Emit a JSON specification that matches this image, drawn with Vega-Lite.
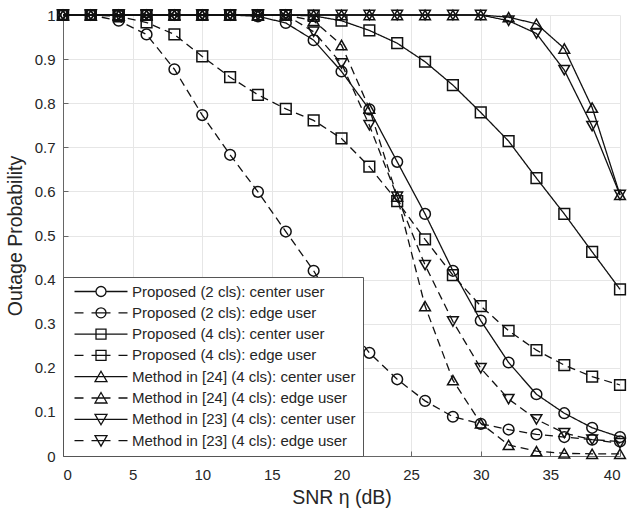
{
  "$schema": "https://vega.github.io/schema/vega-lite/v6.json",
  "autosize": {"type": "none"},
  "padding": {"left": 63, "top": 15, "right": 10, "bottom": 57},
  "width": 557,
  "height": 441,
  "background": "white",
  "config": {
    "view": {"stroke": null},
    "font": "Liberation Sans",
    "axis": {
      "labelFont": "Liberation Sans", "titleFont": "Liberation Sans",
      "labelFontSize": 15, "titleFontSize": 19.5, "titleFontWeight": "normal",
      "labelColor": "#262626", "titleColor": "#262626",
      "gridColor": "#e6e6e6", "gridWidth": 1,
      "domainColor": "#666666", "tickColor": "#666666",
      "tickSize": -5
    }
  },
  "datasets": {
    "curves": [
      {"series": "Proposed (2 cls): center user", "snr": 0, "p": 1},
      {"series": "Proposed (2 cls): center user", "snr": 2, "p": 1},
      {"series": "Proposed (2 cls): center user", "snr": 4, "p": 1},
      {"series": "Proposed (2 cls): center user", "snr": 6, "p": 1},
      {"series": "Proposed (2 cls): center user", "snr": 8, "p": 1},
      {"series": "Proposed (2 cls): center user", "snr": 10, "p": 1},
      {"series": "Proposed (2 cls): center user", "snr": 12, "p": 1},
      {"series": "Proposed (2 cls): center user", "snr": 14, "p": 0.997},
      {"series": "Proposed (2 cls): center user", "snr": 16, "p": 0.982},
      {"series": "Proposed (2 cls): center user", "snr": 18, "p": 0.943},
      {"series": "Proposed (2 cls): center user", "snr": 20, "p": 0.872},
      {"series": "Proposed (2 cls): center user", "snr": 22, "p": 0.786},
      {"series": "Proposed (2 cls): center user", "snr": 24, "p": 0.667},
      {"series": "Proposed (2 cls): center user", "snr": 26, "p": 0.549},
      {"series": "Proposed (2 cls): center user", "snr": 28, "p": 0.42},
      {"series": "Proposed (2 cls): center user", "snr": 30, "p": 0.307},
      {"series": "Proposed (2 cls): center user", "snr": 32, "p": 0.212},
      {"series": "Proposed (2 cls): center user", "snr": 34, "p": 0.14},
      {"series": "Proposed (2 cls): center user", "snr": 36, "p": 0.097},
      {"series": "Proposed (2 cls): center user", "snr": 38, "p": 0.064},
      {"series": "Proposed (2 cls): center user", "snr": 40, "p": 0.043},

      {"series": "Proposed (2 cls): edge user", "snr": 0, "p": 1},
      {"series": "Proposed (2 cls): edge user", "snr": 2, "p": 1},
      {"series": "Proposed (2 cls): edge user", "snr": 4, "p": 0.987},
      {"series": "Proposed (2 cls): edge user", "snr": 6, "p": 0.956},
      {"series": "Proposed (2 cls): edge user", "snr": 8, "p": 0.877},
      {"series": "Proposed (2 cls): edge user", "snr": 10, "p": 0.773},
      {"series": "Proposed (2 cls): edge user", "snr": 12, "p": 0.683},
      {"series": "Proposed (2 cls): edge user", "snr": 14, "p": 0.599},
      {"series": "Proposed (2 cls): edge user", "snr": 16, "p": 0.509},
      {"series": "Proposed (2 cls): edge user", "snr": 18, "p": 0.42},
      {"series": "Proposed (2 cls): edge user", "snr": 20, "p": 0.316},
      {"series": "Proposed (2 cls): edge user", "snr": 22, "p": 0.234},
      {"series": "Proposed (2 cls): edge user", "snr": 24, "p": 0.174},
      {"series": "Proposed (2 cls): edge user", "snr": 26, "p": 0.125},
      {"series": "Proposed (2 cls): edge user", "snr": 28, "p": 0.089},
      {"series": "Proposed (2 cls): edge user", "snr": 30, "p": 0.073},
      {"series": "Proposed (2 cls): edge user", "snr": 32, "p": 0.06},
      {"series": "Proposed (2 cls): edge user", "snr": 34, "p": 0.049},
      {"series": "Proposed (2 cls): edge user", "snr": 36, "p": 0.043},
      {"series": "Proposed (2 cls): edge user", "snr": 38, "p": 0.037},
      {"series": "Proposed (2 cls): edge user", "snr": 40, "p": 0.033},

      {"series": "Proposed (4 cls): center user", "snr": 0, "p": 1},
      {"series": "Proposed (4 cls): center user", "snr": 2, "p": 1},
      {"series": "Proposed (4 cls): center user", "snr": 4, "p": 1},
      {"series": "Proposed (4 cls): center user", "snr": 6, "p": 1},
      {"series": "Proposed (4 cls): center user", "snr": 8, "p": 1},
      {"series": "Proposed (4 cls): center user", "snr": 10, "p": 1},
      {"series": "Proposed (4 cls): center user", "snr": 12, "p": 1},
      {"series": "Proposed (4 cls): center user", "snr": 14, "p": 1},
      {"series": "Proposed (4 cls): center user", "snr": 16, "p": 1},
      {"series": "Proposed (4 cls): center user", "snr": 18, "p": 0.998},
      {"series": "Proposed (4 cls): center user", "snr": 20, "p": 0.987},
      {"series": "Proposed (4 cls): center user", "snr": 22, "p": 0.965},
      {"series": "Proposed (4 cls): center user", "snr": 24, "p": 0.936},
      {"series": "Proposed (4 cls): center user", "snr": 26, "p": 0.894},
      {"series": "Proposed (4 cls): center user", "snr": 28, "p": 0.841},
      {"series": "Proposed (4 cls): center user", "snr": 30, "p": 0.779},
      {"series": "Proposed (4 cls): center user", "snr": 32, "p": 0.714},
      {"series": "Proposed (4 cls): center user", "snr": 34, "p": 0.63},
      {"series": "Proposed (4 cls): center user", "snr": 36, "p": 0.549},
      {"series": "Proposed (4 cls): center user", "snr": 38, "p": 0.463},
      {"series": "Proposed (4 cls): center user", "snr": 40, "p": 0.378},

      {"series": "Proposed (4 cls): edge user", "snr": 0, "p": 1},
      {"series": "Proposed (4 cls): edge user", "snr": 2, "p": 1},
      {"series": "Proposed (4 cls): edge user", "snr": 4, "p": 0.997},
      {"series": "Proposed (4 cls): edge user", "snr": 6, "p": 0.983},
      {"series": "Proposed (4 cls): edge user", "snr": 8, "p": 0.956},
      {"series": "Proposed (4 cls): edge user", "snr": 10, "p": 0.906},
      {"series": "Proposed (4 cls): edge user", "snr": 12, "p": 0.859},
      {"series": "Proposed (4 cls): edge user", "snr": 14, "p": 0.819},
      {"series": "Proposed (4 cls): edge user", "snr": 16, "p": 0.787},
      {"series": "Proposed (4 cls): edge user", "snr": 18, "p": 0.761},
      {"series": "Proposed (4 cls): edge user", "snr": 20, "p": 0.72},
      {"series": "Proposed (4 cls): edge user", "snr": 22, "p": 0.656},
      {"series": "Proposed (4 cls): edge user", "snr": 24, "p": 0.578},
      {"series": "Proposed (4 cls): edge user", "snr": 26, "p": 0.491},
      {"series": "Proposed (4 cls): edge user", "snr": 28, "p": 0.41},
      {"series": "Proposed (4 cls): edge user", "snr": 30, "p": 0.34},
      {"series": "Proposed (4 cls): edge user", "snr": 32, "p": 0.284},
      {"series": "Proposed (4 cls): edge user", "snr": 34, "p": 0.24},
      {"series": "Proposed (4 cls): edge user", "snr": 36, "p": 0.206},
      {"series": "Proposed (4 cls): edge user", "snr": 38, "p": 0.18},
      {"series": "Proposed (4 cls): edge user", "snr": 40, "p": 0.161},

      {"series": "Method in [24] (4 cls): center user", "snr": 0, "p": 1},
      {"series": "Method in [24] (4 cls): center user", "snr": 2, "p": 1},
      {"series": "Method in [24] (4 cls): center user", "snr": 4, "p": 1},
      {"series": "Method in [24] (4 cls): center user", "snr": 6, "p": 1},
      {"series": "Method in [24] (4 cls): center user", "snr": 8, "p": 1},
      {"series": "Method in [24] (4 cls): center user", "snr": 10, "p": 1},
      {"series": "Method in [24] (4 cls): center user", "snr": 12, "p": 1},
      {"series": "Method in [24] (4 cls): center user", "snr": 14, "p": 1},
      {"series": "Method in [24] (4 cls): center user", "snr": 16, "p": 1},
      {"series": "Method in [24] (4 cls): center user", "snr": 18, "p": 1},
      {"series": "Method in [24] (4 cls): center user", "snr": 20, "p": 1},
      {"series": "Method in [24] (4 cls): center user", "snr": 22, "p": 1},
      {"series": "Method in [24] (4 cls): center user", "snr": 24, "p": 1},
      {"series": "Method in [24] (4 cls): center user", "snr": 26, "p": 1},
      {"series": "Method in [24] (4 cls): center user", "snr": 28, "p": 1},
      {"series": "Method in [24] (4 cls): center user", "snr": 30, "p": 1},
      {"series": "Method in [24] (4 cls): center user", "snr": 32, "p": 0.995},
      {"series": "Method in [24] (4 cls): center user", "snr": 34, "p": 0.98},
      {"series": "Method in [24] (4 cls): center user", "snr": 36, "p": 0.924},
      {"series": "Method in [24] (4 cls): center user", "snr": 38, "p": 0.79},
      {"series": "Method in [24] (4 cls): center user", "snr": 40, "p": 0.592},

      {"series": "Method in [24] (4 cls): edge user", "snr": 0, "p": 1},
      {"series": "Method in [24] (4 cls): edge user", "snr": 2, "p": 1},
      {"series": "Method in [24] (4 cls): edge user", "snr": 4, "p": 1},
      {"series": "Method in [24] (4 cls): edge user", "snr": 6, "p": 1},
      {"series": "Method in [24] (4 cls): edge user", "snr": 8, "p": 1},
      {"series": "Method in [24] (4 cls): edge user", "snr": 10, "p": 1},
      {"series": "Method in [24] (4 cls): edge user", "snr": 12, "p": 1},
      {"series": "Method in [24] (4 cls): edge user", "snr": 14, "p": 1},
      {"series": "Method in [24] (4 cls): edge user", "snr": 16, "p": 1},
      {"series": "Method in [24] (4 cls): edge user", "snr": 18, "p": 0.987},
      {"series": "Method in [24] (4 cls): edge user", "snr": 20, "p": 0.932},
      {"series": "Method in [24] (4 cls): edge user", "snr": 22, "p": 0.788},
      {"series": "Method in [24] (4 cls): edge user", "snr": 24, "p": 0.588},
      {"series": "Method in [24] (4 cls): edge user", "snr": 26, "p": 0.34},
      {"series": "Method in [24] (4 cls): edge user", "snr": 28, "p": 0.172},
      {"series": "Method in [24] (4 cls): edge user", "snr": 30, "p": 0.074},
      {"series": "Method in [24] (4 cls): edge user", "snr": 32, "p": 0.025},
      {"series": "Method in [24] (4 cls): edge user", "snr": 34, "p": 0.011},
      {"series": "Method in [24] (4 cls): edge user", "snr": 36, "p": 0.006},
      {"series": "Method in [24] (4 cls): edge user", "snr": 38, "p": 0.005},
      {"series": "Method in [24] (4 cls): edge user", "snr": 40, "p": 0.005},

      {"series": "Method in [23] (4 cls): center user", "snr": 0, "p": 1},
      {"series": "Method in [23] (4 cls): center user", "snr": 2, "p": 1},
      {"series": "Method in [23] (4 cls): center user", "snr": 4, "p": 1},
      {"series": "Method in [23] (4 cls): center user", "snr": 6, "p": 1},
      {"series": "Method in [23] (4 cls): center user", "snr": 8, "p": 1},
      {"series": "Method in [23] (4 cls): center user", "snr": 10, "p": 1},
      {"series": "Method in [23] (4 cls): center user", "snr": 12, "p": 1},
      {"series": "Method in [23] (4 cls): center user", "snr": 14, "p": 1},
      {"series": "Method in [23] (4 cls): center user", "snr": 16, "p": 1},
      {"series": "Method in [23] (4 cls): center user", "snr": 18, "p": 1},
      {"series": "Method in [23] (4 cls): center user", "snr": 20, "p": 1},
      {"series": "Method in [23] (4 cls): center user", "snr": 22, "p": 1},
      {"series": "Method in [23] (4 cls): center user", "snr": 24, "p": 1},
      {"series": "Method in [23] (4 cls): center user", "snr": 26, "p": 1},
      {"series": "Method in [23] (4 cls): center user", "snr": 28, "p": 1},
      {"series": "Method in [23] (4 cls): center user", "snr": 30, "p": 1},
      {"series": "Method in [23] (4 cls): center user", "snr": 32, "p": 0.987},
      {"series": "Method in [23] (4 cls): center user", "snr": 34, "p": 0.958},
      {"series": "Method in [23] (4 cls): center user", "snr": 36, "p": 0.875},
      {"series": "Method in [23] (4 cls): center user", "snr": 38, "p": 0.748},
      {"series": "Method in [23] (4 cls): center user", "snr": 40, "p": 0.592},

      {"series": "Method in [23] (4 cls): edge user", "snr": 0, "p": 1},
      {"series": "Method in [23] (4 cls): edge user", "snr": 2, "p": 1},
      {"series": "Method in [23] (4 cls): edge user", "snr": 4, "p": 1},
      {"series": "Method in [23] (4 cls): edge user", "snr": 6, "p": 1},
      {"series": "Method in [23] (4 cls): edge user", "snr": 8, "p": 1},
      {"series": "Method in [23] (4 cls): edge user", "snr": 10, "p": 1},
      {"series": "Method in [23] (4 cls): edge user", "snr": 12, "p": 1},
      {"series": "Method in [23] (4 cls): edge user", "snr": 14, "p": 1},
      {"series": "Method in [23] (4 cls): edge user", "snr": 16, "p": 1},
      {"series": "Method in [23] (4 cls): edge user", "snr": 18, "p": 0.962},
      {"series": "Method in [23] (4 cls): edge user", "snr": 20, "p": 0.89},
      {"series": "Method in [23] (4 cls): edge user", "snr": 22, "p": 0.75},
      {"series": "Method in [23] (4 cls): edge user", "snr": 24, "p": 0.588},
      {"series": "Method in [23] (4 cls): edge user", "snr": 26, "p": 0.433},
      {"series": "Method in [23] (4 cls): edge user", "snr": 28, "p": 0.305},
      {"series": "Method in [23] (4 cls): edge user", "snr": 30, "p": 0.199},
      {"series": "Method in [23] (4 cls): edge user", "snr": 32, "p": 0.129},
      {"series": "Method in [23] (4 cls): edge user", "snr": 34, "p": 0.083},
      {"series": "Method in [23] (4 cls): edge user", "snr": 36, "p": 0.052},
      {"series": "Method in [23] (4 cls): edge user", "snr": 38, "p": 0.037},
      {"series": "Method in [23] (4 cls): edge user", "snr": 40, "p": 0.029}
    ],
    "none": []
  },
  "layer": [
    {
      "data": {"name": "curves"},
      "mark": {"type": "line", "color": "#111111", "strokeWidth": 1.3},
      "encoding": {
        "x": {"field": "snr", "type": "quantitative", "scale": {"domain": [0, 40], "nice": false},
          "axis": {"values": [0, 5, 10, 15, 20, 25, 30, 35, 40], "title": "SNR η (dB)", "grid": true, "labelPadding": 16, "titlePadding": 6}},
        "y": {"field": "p", "type": "quantitative", "scale": {"domain": [0, 1], "nice": false},
          "axis": {"values": [0, 0.1, 0.2, 0.3, 0.4, 0.5, 0.6, 0.7, 0.8, 0.9, 1], "format": "~g", "title": "Outage Probability", "grid": true, "labelPadding": 13, "titlePadding": 9}},
        "strokeDash": {"field": "series", "type": "nominal",
          "scale": {"domain": ["Proposed (2 cls): center user", "Proposed (2 cls): edge user", "Proposed (4 cls): center user", "Proposed (4 cls): edge user", "Method in [24] (4 cls): center user", "Method in [24] (4 cls): edge user", "Method in [23] (4 cls): center user", "Method in [23] (4 cls): edge user"],
            "range": [[1, 0], [8, 5], [1, 0], [8, 5], [1, 0], [8, 5], [1, 0], [8, 5]]},
          "legend": null}
      }
    },
    {
      "data": {"name": "curves"},
      "mark": {"type": "point", "filled": false, "color": "#111111", "size": 115, "strokeWidth": 1.5, "opacity": 1},
      "encoding": {
        "x": {"field": "snr", "type": "quantitative"},
        "y": {"field": "p", "type": "quantitative"},
        "shape": {"field": "series", "type": "nominal",
          "scale": {"domain": ["Proposed (2 cls): center user", "Proposed (2 cls): edge user", "Proposed (4 cls): center user", "Proposed (4 cls): edge user", "Method in [24] (4 cls): center user", "Method in [24] (4 cls): edge user", "Method in [23] (4 cls): center user", "Method in [23] (4 cls): edge user"],
            "range": ["circle", "circle", "square", "square", "triangle-up", "triangle-up", "triangle-down", "triangle-down"]},
          "legend": null}
      }
    },
    {
      "data": {"name": "none"},
      "mark": {"type": "point", "filled": false, "color": "#111111", "size": 4, "strokeWidth": 1.3, "opacity": 1},
      "encoding": {
        "x": {"field": "snr", "type": "quantitative"},
        "y": {"field": "p", "type": "quantitative"},
        "shape": {"field": "series", "type": "nominal",
          "scale": {"domain": ["Proposed (2 cls): center user", "Proposed (2 cls): edge user", "Proposed (4 cls): center user", "Proposed (4 cls): edge user", "Method in [24] (4 cls): center user", "Method in [24] (4 cls): edge user", "Method in [23] (4 cls): center user", "Method in [23] (4 cls): edge user"],
            "range": [
              "M0,0H21.5M31.5,0H53M31.5,0A5,5,0,1,1,21.5,0A5,5,0,1,1,31.5,0",
              "M0,0H9M17,0H36M44,0H53M31.5,0A5,5,0,1,1,21.5,0A5,5,0,1,1,31.5,0",
              "M0,0H53M21.5,-5H31.5V5H21.5Z",
              "M0,0H9M17,0H36M44,0H53M21.5,-5H31.5V5H21.5Z",
              "M0,0H53M26.5,-5.5L32.5,5H20.5Z",
              "M0,0H9M17,0H36M44,0H53M26.5,-5.5L32.5,5H20.5Z",
              "M0,0H53M26.5,5.5L32.5,-5H20.5Z",
              "M0,0H9M17,0H36M44,0H53M26.5,5.5L32.5,-5H20.5Z"
            ]},
          "legend": {
            "title": null, "orient": "bottom-left", "offset": 0, "padding": 7,
            "strokeColor": "#555555", "fillColor": "white", "cornerRadius": 0,
            "labelFont": "Liberation Sans", "labelFontSize": 15, "labelColor": "#262626", "labelLimit": 0,
            "symbolSize": 4, "symbolStrokeWidth": 1.3, "symbolStrokeColor": "#111111", "symbolFillColor": "transparent",
            "labelOffset": 50, "symbolOffset": -3, "rowPadding": 4.3
          }
        }
      }
    }
  ],
  "resolve": {"scale": {"shape": "independent", "strokeDash": "independent"}, "legend": {"shape": "independent"}}
}
